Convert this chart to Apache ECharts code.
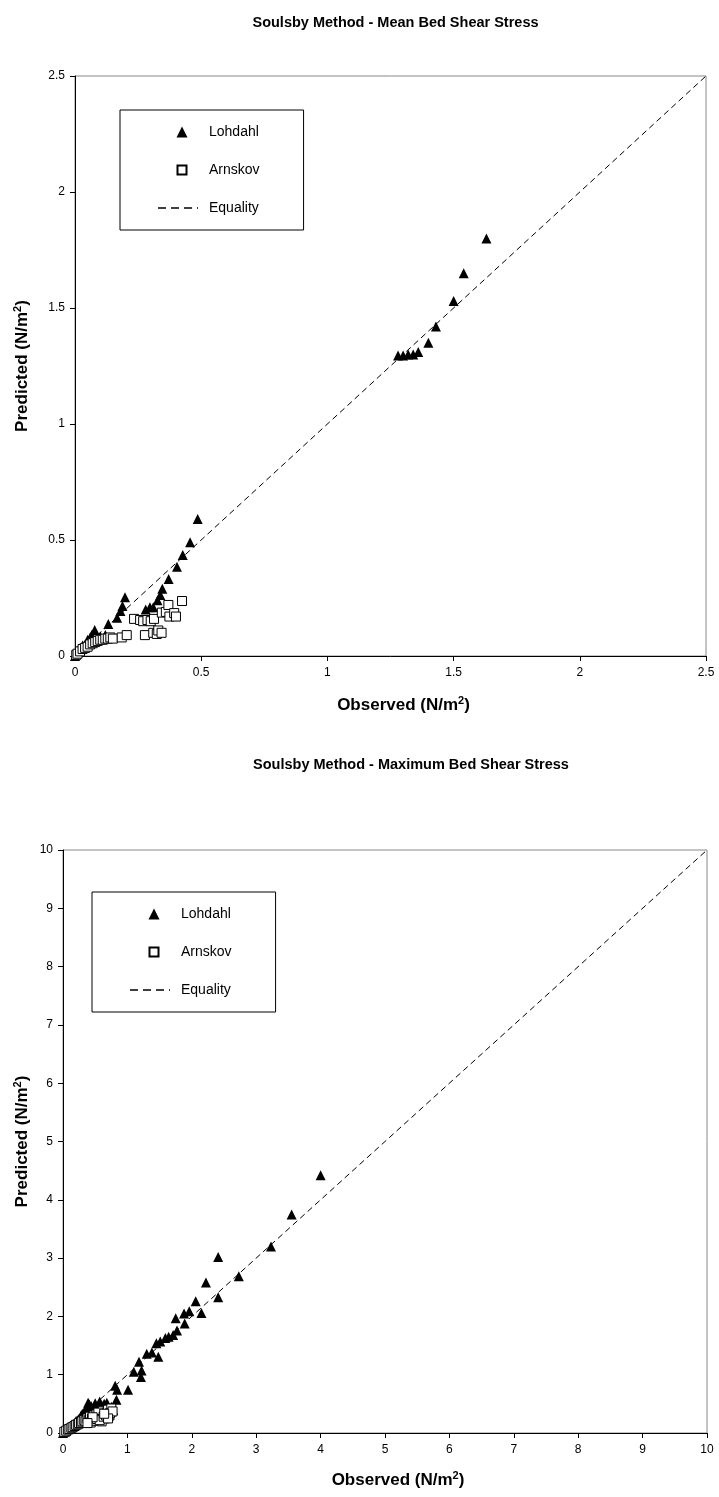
<!DOCTYPE html>
<html><head><meta charset="utf-8">
<script src="https://cdn.jsdelivr.net/npm/echarts@6/dist/echarts.min.js"></script>
<style>html,body{margin:0;padding:0;background:#fff}#c{width:719px;height:1497px}</style>
</head><body><div id="c"></div>
<script>
// ---------- DATA ----------
const titles = ['Soulsby Method - Mean Bed Shear Stress', 'Soulsby Method - Maximum Bed Shear Stress'];
const xTitle = 'Observed (N/m{sup|2})';
const yTitle = 'Predicted (N/m{sup|2})';
const seriesNames = ['Lohdahl', 'Arnskov', 'Equality'];
const meanAxisMax = 2.5, meanAxisStep = 0.5;
const maxAxisMax = 10, maxAxisStep = 1;

const lohdahlMean = [
 [0.00,0.00],[0.005,0.01],[0.01,0.02],[0.015,0.03],[0.02,0.035],[0.03,0.045],[0.04,0.05],[0.05,0.07],
 [0.06,0.08],[0.066,0.09],[0.078,0.112],[0.09,0.08],[0.10,0.085],[0.12,0.09],[0.132,0.138],[0.167,0.165],
 [0.18,0.194],[0.188,0.215],[0.198,0.253],[0.28,0.20],[0.297,0.21],[0.31,0.21],[0.327,0.24],[0.338,0.263],
 [0.346,0.29],[0.371,0.332],[0.404,0.385],[0.427,0.435],[0.456,0.49],[0.486,0.59],
 [1.28,1.295],[1.30,1.295],[1.32,1.30],[1.34,1.30],[1.36,1.31],[1.40,1.35],[1.43,1.42],[1.50,1.53],
 [1.54,1.65],[1.63,1.80]
];
const arnskovMean = [
 [0.005,0.005],[0.01,0.01],[0.02,0.02],[0.03,0.03],[0.04,0.035],[0.05,0.04],[0.06,0.05],[0.07,0.055],
 [0.08,0.06],[0.09,0.065],[0.10,0.07],[0.11,0.07],[0.12,0.075],[0.13,0.075],[0.14,0.08],[0.15,0.075],
 [0.185,0.08],[0.205,0.09],[0.234,0.16],[0.258,0.155],[0.27,0.15],[0.287,0.155],[0.30,0.15],[0.313,0.16],
 [0.277,0.09],[0.31,0.10],[0.324,0.095],[0.33,0.11],[0.343,0.10],[0.344,0.187],[0.36,0.19],[0.37,0.22],
 [0.374,0.17],[0.393,0.185],[0.40,0.17],[0.424,0.237]
];
const lohdahlMax = [
 [0,0],[0.03,0.02],[0.05,0.04],[0.08,0.07],[0.10,0.10],[0.12,0.12],[0.15,0.14],[0.18,0.16],[0.20,0.20],
 [0.22,0.22],[0.25,0.25],[0.28,0.30],[0.30,0.33],[0.33,0.36],[0.36,0.42],[0.39,0.52],[0.41,0.49],[0.45,0.40],
 [0.50,0.45],[0.57,0.54],[0.60,0.47],[0.65,0.42],[0.70,0.47],[0.72,0.42],[0.75,0.45],[0.81,0.81],[0.83,0.57],
 [0.84,0.74],[1.01,0.74],[1.10,1.05],[1.18,1.22],[1.21,0.96],[1.22,1.07],[1.30,1.36],[1.38,1.38],[1.45,1.54],
 [1.48,1.31],[1.51,1.57],[1.59,1.63],[1.64,1.65],[1.71,1.68],[1.75,1.97],[1.77,1.76],[1.88,2.05],[1.89,1.88],
 [1.96,2.09],[2.06,2.26],[2.15,2.06],[2.22,2.58],[2.41,2.33],[2.41,3.02],[2.73,2.69],[3.23,3.20],[3.55,3.75],
 [4.00,4.42],
 [0.26,0.20],[0.30,0.25],[0.35,0.26],[0.38,0.31],[0.40,0.35],[0.44,0.33],[0.47,0.38],[0.52,0.36],[0.55,0.41],
 [0.58,0.37],[0.62,0.44],[0.66,0.36],[0.70,0.39],[0.74,0.36],[0.78,0.40],[0.44,0.46],[0.50,0.51],[0.64,0.50],
 [0.68,0.52]
];
const arnskovMax = [
 [0.02,0.02],[0.05,0.04],[0.08,0.06],[0.10,0.07],[0.13,0.09],[0.15,0.10],[0.18,0.12],[0.20,0.14],[0.23,0.15],
 [0.25,0.17],[0.28,0.18],[0.30,0.20],[0.33,0.22],[0.35,0.20],[0.38,0.25],[0.40,0.22],[0.42,0.28],[0.45,0.25],
 [0.48,0.30],[0.50,0.22],[0.52,0.32],[0.55,0.27],[0.58,0.35],[0.60,0.30],[0.62,0.38],[0.65,0.25],[0.68,0.35],
 [0.70,0.40],[0.72,0.30],[0.75,0.42],[0.60,0.20],[0.55,0.35],
 [0.43,0.18],[0.47,0.21],[0.53,0.24],[0.57,0.22],[0.63,0.28],[0.67,0.30],[0.73,0.34],[0.77,0.37],[0.70,0.25],
 [0.64,0.33],[0.46,0.27],[0.38,0.17]
];
const equalityMean = [[0,0],[2.5,2.5]];
const equalityMax = [[0,0],[10,10]];

// ---------- LAYOUT ----------
const FONT = '"Liberation Sans", Arial, sans-serif';
const grids = [
  {left: 75, top: 76, width: 631, height: 580},
  {left: 63, top: 850, width: 644, height: 583}
];
const titleX = [390.5, 406];
const titleY = [10, 752];
const legendPos = [{left: 120, top: 110}, {left: 92, top: 892}];
const yNameGap = [42, 30];
const xNameGap = [39, 37];

// legend icons: bounding box 40x11 with the marker centred at x=24
const ICON_TRI = 'path://M0,0L0,0M40,11L40,11M18.5,11L24,0L29.5,11Z';
const ICON_SQ = 'path://M0,0L0,0M40,11L40,11M19.5,1L28.5,1L28.5,10L19.5,10Z';

function axisCommon(max, step, isY, nameGap, name) {
  return {
    type: 'value', min: 0, max: max, interval: step,
    name: name, nameLocation: 'middle', nameGap: nameGap, nameMoveOverlap: false,
    nameTextStyle: {fontFamily: FONT, fontSize: 17, fontWeight: 'bold', color: '#000', lineHeight: 21,
      padding: isY ? [0, 0, 0, 0] : [0, 0, 0, 26],
      rich: {sup: {fontFamily: FONT, fontSize: 11, fontWeight: 'bold', color: '#000', lineHeight: 21,
                   verticalAlign: 'top', padding: [0, 0, 8, 0]}}},
    axisLine: {show: true, onZero: false, lineStyle: {color: '#000', width: 1}},
    axisTick: {show: true, length: 5, inside: false, lineStyle: {color: '#000'}},
    axisLabel: {fontFamily: FONT, fontSize: 12, color: '#000', margin: isY ? 10 : 11,
                formatter: v => String(+v.toFixed(2))},
    splitLine: {show: false}
  };
}

const option = {
  backgroundColor: '#fff',
  animation: false,
  title: titles.map((t, i) => ({
    text: t, left: titleX[i], top: titleY[i], textAlign: 'center',
    textStyle: {fontFamily: FONT, fontSize: 14.5, fontWeight: 'bold', color: '#000'}
  })),
  grid: grids.map(g => Object.assign({show: true, borderColor: '#888', borderWidth: 1, backgroundColor: 'transparent'}, g)),
  xAxis: [
    Object.assign(axisCommon(meanAxisMax, meanAxisStep, false, xNameGap[0], xTitle), {gridIndex: 0}),
    Object.assign(axisCommon(maxAxisMax, maxAxisStep, false, xNameGap[1], xTitle), {gridIndex: 1})
  ],
  yAxis: [
    Object.assign(axisCommon(meanAxisMax, meanAxisStep, true, yNameGap[0], yTitle), {gridIndex: 0}),
    Object.assign(axisCommon(maxAxisMax, maxAxisStep, true, yNameGap[1], yTitle), {gridIndex: 1})
  ],
  legend: legendPos.map(p => ({
    left: p.left, top: p.top, orient: 'vertical',
    data: [
      {name: seriesNames[0], icon: ICON_TRI},
      {name: seriesNames[1], icon: ICON_SQ},
      {name: seriesNames[2], itemStyle: {opacity: 0}, lineStyle: {width: 1.3, color: '#000', type: [8, 5]}}
    ],
    itemWidth: 40, itemHeight: 11, itemGap: 24,
    padding: [15, 44, 15, 37], borderColor: '#000', borderWidth: 1, backgroundColor: '#fff',
    selectedMode: false, symbolKeepAspect: true,
    textStyle: {fontFamily: FONT, fontSize: 14, color: '#000', padding: [0, 0, 0, 6]}
  })),
  series: []
};

const sets = [[lohdahlMean, arnskovMean, equalityMean], [lohdahlMax, arnskovMax, equalityMax]];
sets.forEach((s, i) => {
  option.series.push({
    name: seriesNames[0], type: 'scatter', xAxisIndex: i, yAxisIndex: i, data: s[0],
    symbol: 'triangle', symbolSize: 10, itemStyle: {color: '#000', opacity: 1}, z: 3
  });
  option.series.push({
    name: seriesNames[1], type: 'scatter', xAxisIndex: i, yAxisIndex: i, data: s[1],
    symbol: 'rect', symbolSize: 9, itemStyle: {color: '#fff', borderColor: '#000', borderWidth: 1, opacity: 1}, z: 4
  });
  option.series.push({
    name: seriesNames[2], type: 'line', xAxisIndex: i, yAxisIndex: i, data: s[2],
    symbol: 'none', lineStyle: {color: '#000', width: 1, type: [6, 4]}, itemStyle: {color: '#000'}, z: 2
  });
});

const chart = echarts.init(document.getElementById('c'), null, {renderer: 'canvas'});
chart.setOption(option);
</script></body></html>
